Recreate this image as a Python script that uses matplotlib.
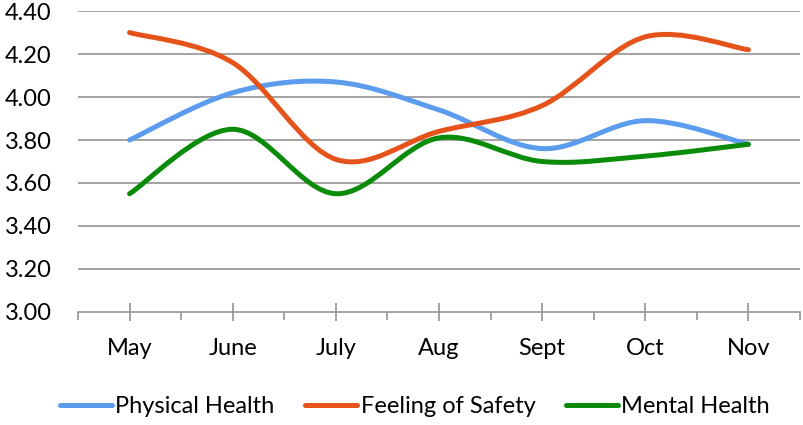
import matplotlib
matplotlib.use("Agg")
import matplotlib.pyplot as plt
from matplotlib.path import Path
from matplotlib.patches import PathPatch
from matplotlib.lines import Line2D
import numpy as np

months = ["May", "June", "July", "Aug", "Sept", "Oct", "Nov"]
physical = [3.80, 4.02, 4.07, 3.94, 3.76, 3.89, 3.78]
safety = [4.30, 4.16, 3.71, 3.84, 3.96, 4.28, 4.22]
mental = [3.55, 3.85, 3.55, 3.81, 3.70, 3.725, 3.78]
series_names = ["Physical Health", "Feeling of Safety", "Mental Health"]
colors = ["#5B9CEE", "#E5531A", "#0A8C0A"]

plt.rcParams['font.family'] = ['Lato', 'DejaVu Sans']
FS = 17

fig = plt.figure(figsize=(8.04, 4.25), dpi=100)
ax = fig.add_axes([0.097, 0.266, 0.898, 0.708])


def smooth_path(xs, ys):
    xs = np.asarray(xs, float)
    ys = np.asarray(ys, float)
    n = len(xs)
    verts = [(xs[0], ys[0])]
    codes = [Path.MOVETO]
    for i in range(n - 1):
        p0 = (xs[max(i - 1, 0)], ys[max(i - 1, 0)])
        p1 = (xs[i], ys[i])
        p2 = (xs[i + 1], ys[i + 1])
        p3 = (xs[min(i + 2, n - 1)], ys[min(i + 2, n - 1)])
        c1 = (p1[0] + (p2[0] - p0[0]) / 6, p1[1] + (p2[1] - p0[1]) / 6)
        c2 = (p2[0] - (p3[0] - p1[0]) / 6, p2[1] - (p3[1] - p1[1]) / 6)
        verts += [c1, c2, p2]
        codes += [Path.CURVE4] * 3
    return Path(verts, codes)


x = np.arange(len(months))
handles = []
for vals, name, c in zip([physical, safety, mental], series_names, colors):
    patch = PathPatch(smooth_path(x, vals), facecolor='none', edgecolor=c,
                      lw=3.6, capstyle='round', joinstyle='round', zorder=3)
    ax.add_patch(patch)
    handles.append(Line2D([], [], color=c, lw=3.6, solid_capstyle='round', label=name))

ax.set_xlim(-0.5, len(months) - 0.5)
ax.set_ylim(3.0, 4.4)
ax.set_yticks(np.arange(3.0, 4.41, 0.2))
ax.set_yticklabels([f"{v:.2f}" for v in np.arange(3.0, 4.41, 0.2)], fontsize=FS)
ax.set_xticks(x)
ax.set_xticklabels(months, fontsize=FS)
ax.set_xticks(np.arange(-0.5, len(months), 1.0), minor=True)

grid_c = "#9C9C9C"
for v in np.arange(3.2, 4.41, 0.2):
    ax.axhline(v, color=grid_c, lw=1.3, zorder=1)

for s in ['top', 'right', 'left']:
    ax.spines[s].set_visible(False)
ax.spines['bottom'].set_color(grid_c)
ax.spines['bottom'].set_linewidth(1.3)

ax.tick_params(axis='y', length=0, pad=19)
ax.tick_params(axis='x', which='major', direction='inout', length=13, width=1.3,
               color=grid_c, pad=12)
ax.tick_params(axis='x', which='minor', direction='out', length=6, width=1.3,
               color=grid_c)

fig.legend(handles=handles, loc='center', bbox_to_anchor=(0.516, 0.043), ncol=3,
           frameon=False, fontsize=FS, handlelength=2.2, handletextpad=0.15,
           columnspacing=1.3)

fig.savefig("out.png", dpi=100)
